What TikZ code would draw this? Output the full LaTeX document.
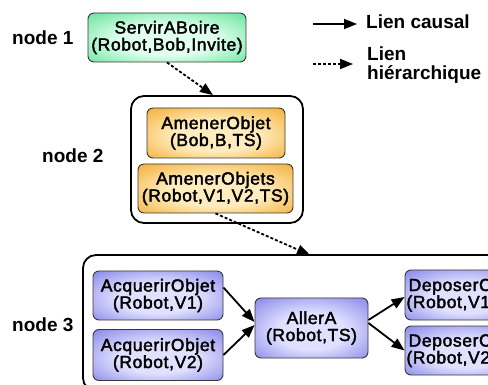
\documentclass[tikz,border=0pt]{standalone}
\usepackage{fontspec}
\setmainfont{Liberation Sans}
\newfontfamily\boxfont[FakeBold=2.2,LetterSpace=3.5]{Liberation Sans}
\usetikzlibrary{arrows.meta,calc}
\definecolor{gOut}{RGB}{72,220,135}
\definecolor{gIn}{RGB}{225,255,238}
\definecolor{oOut}{RGB}{240,160,20}
\definecolor{oIn}{RGB}{255,236,190}
\definecolor{bOut}{RGB}{112,112,228}
\definecolor{bIn}{RGB}{225,225,255}
\definecolor{edge}{RGB}{55,55,55}
\pgfdeclareradialshading{greenglow}{\pgfpoint{0bp}{-4bp}}{color(0bp)=(gIn); color(15bp)=(gIn); color(42bp)=(gOut); color(50bp)=(gOut)}
\pgfdeclareradialshading{orangeglow}{\pgfpoint{0bp}{-4bp}}{color(0bp)=(oIn); color(15bp)=(oIn); color(42bp)=(oOut); color(50bp)=(oOut)}
\pgfdeclareradialshading{blueglow}{\pgfpoint{0bp}{-4bp}}{color(0bp)=(bIn); color(15bp)=(bIn); color(42bp)=(bOut); color(50bp)=(bOut)}
\tikzset{
  box/.style={draw=edge, line width=0.9pt, rounded corners=6pt, align=center,
    inner sep=0pt, font=\boxfont\fontsize{17.5}{17}\selectfont},
  greenbox/.style={box, shading=greenglow},
  orangebox/.style={box, shading=orangeglow},
  bluebox/.style={box, shading=blueglow},
  container/.style={draw=black, line width=1.8pt, fill=white, rounded corners=13pt, inner sep=0pt},
  lbl/.style={font=\bfseries\fontsize{19}{20}\selectfont, inner sep=0pt, anchor=base west},
  causal/.style={line width=1.8pt, -{Triangle[length=13pt,width=10pt]}},
  hier/.style={line width=1.8pt, dash pattern=on 3pt off 2pt, -{Triangle[length=13pt,width=10pt]}},
}
\begin{document}
\begin{tikzpicture}[x=1pt,y=-1pt]
\useasboundingbox (0,0) rectangle (488,385);
\clip (0,0) rectangle (488,385);
\fill[white] (0,0) rectangle (488,385);

% node 1
\node[lbl] (l1) at (12,45) {node 1};
\node[greenbox, minimum width=158pt, minimum height=49pt] (n1) at (167,37.5) {ServirABoire\\(Robot,Bob,Invite)};

% legend
\coordinate (lgA1) at (313,24);
\coordinate (lgA2) at (357,24);
\coordinate (lgB1) at (313,64);
\coordinate (lgB2) at (353,64);
\draw[causal] (lgA1) -- (lgA2);
\draw[hier] (lgB1) -- (lgB2);
\node[lbl] (lg1) at (366,29) {Lien causal};
\node[lbl] (lg2) at (367,61) {Lien};
\node[lbl] (lg3) at (367,80) {hiérarchique};

% node 2
\node[lbl] (l2) at (42,163) {node 2};
\node[container, minimum width=172pt, minimum height=127pt] (c2) at (217,159.5) {};
\node[orangebox, minimum width=138pt, minimum height=50pt] (a1) at (216,133) {AmenerObjet\\(Bob,B,TS)};
\node[orangebox, minimum width=155pt, minimum height=49pt] (a2) at (215.5,188.5) {AmenerObjets\\(Robot,V1,V2,TS)};

% node 3
\node[lbl] (l3) at (12,331) {node 3};
\node[container, minimum width=440pt, minimum height=136pt] (c3) at (303,323) {};
\coordinate (c3top) at (310,255);
\node[bluebox, minimum width=130pt, minimum height=49pt] (q1) at (158,295.5) {AcquerirObjet\\(Robot,V1)};
\node[bluebox, minimum width=130pt, minimum height=51pt] (q2) at (158,355) {AcquerirObjet\\(Robot,V2)};
\node[bluebox, minimum width=113pt, minimum height=60pt] (al) at (311.5,328) {AllerA\\(Robot,TS)};
\node[bluebox, minimum width=122pt, minimum height=50pt] (d1) at (466,295) {DeposerObjet\\(Robot,V1,TS)};
\node[bluebox, minimum width=122pt, minimum height=49pt] (d2) at (466,350.5) {DeposerObjet\\(Robot,V2,TS)};

% connectors
\draw[hier] (n1.south) -- ($(c2.north)+(-4,0)$);
\draw[hier] (a2.south) -- (c3top);
\draw[causal] ($(q1.east)+(0,-8)$) -- ($(al.west)+(0,-6)$);
\draw[causal] (q2.east) -- ($(al.west)+(0,-3)$);
\draw[causal] ($(al.east)+(0,-8)$) -- ($(d1.west)+(0,2)$);
\draw[causal] ($(al.east)+(0,-5)$) -- (d2.west);
\end{tikzpicture}
\end{document}
